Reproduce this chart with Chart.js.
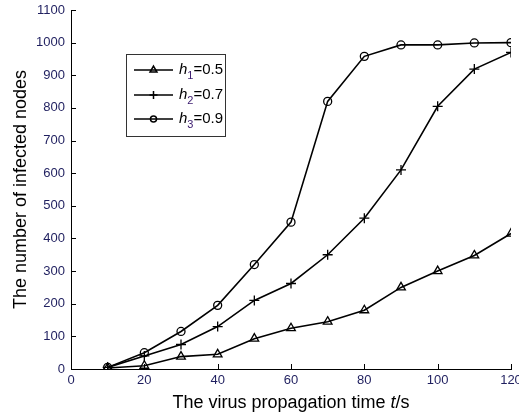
<!DOCTYPE html>
<html>
<head>
<meta charset="utf-8">
<script src="https://cdn.jsdelivr.net/npm/chart.js@4"></script>
<style>
  body { margin: 0; background: #fff; }
  #wrap { width: 519px; height: 416px; }
</style>
</head>
<body>
<div id="wrap"><canvas id="virus_chart" width="519" height="416"></canvas></div>
<script>
// temps de propagation (s)
const times = [10, 20, 30, 40, 50, 60, 70, 80, 90, 100, 110, 120];
// nombre de noeuds infectés pour chaque h
const h1Values = [3, 10, 38, 45, 93, 125, 145, 180, 250, 300, 348, 415];
const h2Values = [5, 40, 75, 130, 210, 262, 350, 462, 610, 805, 919, 970];
const h3Values = [5, 50, 115, 195, 320, 450, 820, 958, 993, 993, 999, 1000];
const legendNames = [["1", "0.5"], ["2", "0.7"], ["3", "0.9"]];
const markerStyles = ["triangle", "cross", "circle"];
const markerSizes = [5, 5, 4];

const tickColor = "#1f1f5f";
const fontName = "'Liberation Sans', Arial, sans-serif";

function toPoints(values) {
    return values.map((v, i) => ({ x: times[i], y: v }));
}

// petites graduations vers l'intérieur (style MATLAB), titre de l'axe x, légende
const decorPlugin = {
    id: "decor",
    afterDraw(chart) {
        const ctx = chart.ctx;
        const area = chart.chartArea;
        const xs = chart.scales.x;
        const ys = chart.scales.y;
        ctx.save();
        ctx.strokeStyle = "#000";
        ctx.lineWidth = 1;
        ctx.beginPath();
        xs.ticks.forEach((t) => {
            const px = Math.round(xs.getPixelForValue(t.value)) + 0.5;
            ctx.moveTo(px, area.bottom);
            ctx.lineTo(px, area.bottom - 5);
        });
        ys.ticks.forEach((t) => {
            const py = Math.round(ys.getPixelForValue(t.value)) + 0.5;
            ctx.moveTo(area.left, py);
            ctx.lineTo(area.left + 5, py);
        });
        ctx.stroke();

        // titre de l'axe x avec le "t" en italique
        ctx.fillStyle = "#000";
        ctx.textBaseline = "middle";
        const parts = [
            ["The virus propagation time ", "18px " + fontName],
            ["t", "italic 18px " + fontName],
            ["/s", "18px " + fontName],
        ];
        let total = 0;
        parts.forEach((p) => { ctx.font = p[1]; total += ctx.measureText(p[0]).width; });
        let x = (area.left + area.right) / 2 - total / 2;
        parts.forEach((p) => {
            ctx.font = p[1];
            ctx.fillText(p[0], x, 403);
            x += ctx.measureText(p[0]).width;
        });

        // légende
        ctx.fillStyle = "#fff";
        ctx.fillRect(126.5, 54.5, 99, 82);
        ctx.strokeStyle = "#333";
        ctx.lineWidth = 1;
        ctx.strokeRect(126.5, 54.5, 99, 82);
        const rows = [70, 95, 119];
        rows.forEach((ry, i) => {
            ctx.strokeStyle = "#000";
            ctx.lineWidth = 1.5;
            ctx.beginPath();
            ctx.moveTo(134, ry);
            ctx.lineTo(173, ry);
            ctx.stroke();
            ctx.fillStyle = "rgba(0,0,0,0)";
            Chart.helpers.drawPoint(ctx, {
                pointStyle: markerStyles[i],
                radius: markerSizes[i] - 1,
                borderWidth: 1.3,
            }, 153.5, ry);
            ctx.fillStyle = "#000";
            ctx.font = "italic 15px " + fontName;
            ctx.fillText("h", 179, ry);
            let tx = 179 + ctx.measureText("h").width;
            ctx.font = "11px " + fontName;
            ctx.fillStyle = "#3a1a6e";
            ctx.fillText(legendNames[i][0], tx, ry + 6);
            tx += ctx.measureText(legendNames[i][0]).width;
            ctx.fillStyle = "#000";
            ctx.font = "15px " + fontName;
            ctx.fillText("=" + legendNames[i][1], tx, ry);
        });
        ctx.restore();
    },
};

const seriesList = [h1Values, h2Values, h3Values];

var ctxVirus = document.getElementById("virus_chart").getContext("2d");
new Chart(ctxVirus, {
    type: "line",
    data: {
        datasets: seriesList.map((vals, i) => ({
            label: "h" + legendNames[i][0] + "=" + legendNames[i][1],
            data: toPoints(vals),
            borderColor: "#000",
            borderWidth: 1.6,
            pointStyle: markerStyles[i],
            pointRadius: markerSizes[i],
            pointBorderWidth: 1.3,
            pointBorderColor: "#000",
            pointBackgroundColor: "rgba(0,0,0,0)",
            tension: 0,
            fill: false,
        })),
    },
    options: {
        responsive: false,
        animation: false,
        layout: { padding: { left: 0, right: 8, top: 10, bottom: 0 } },
        plugins: {
            legend: { display: false },
            tooltip: { enabled: false },
        },
        scales: {
            x: {
                type: "linear",
                min: 0,
                max: 120,
                ticks: {
                    stepSize: 20,
                    color: tickColor,
                    font: { family: fontName, size: 13 },
                    padding: 4,
                    maxRotation: 0,
                    callback: (v) => String(v),
                },
                grid: { drawOnChartArea: false, drawTicks: false },
                border: { display: true, color: "#000", width: 1 },
                afterFit: function (scale) {
                    scale.height = 47;
                    scale.paddingLeft = 0;
                    scale.paddingRight = 0;
                },
            },
            y: {
                min: 0,
                max: 1100,
                ticks: {
                    stepSize: 100,
                    color: tickColor,
                    font: { family: fontName, size: 13 },
                    padding: 6,
                    callback: (v) => String(v),
                },
                grid: { drawOnChartArea: false, drawTicks: false },
                border: { display: true, color: "#000", width: 1 },
                title: {
                    display: true,
                    text: "The number of infected nodes",
                    color: "#000",
                    font: { family: fontName, size: 18 },
                    padding: { top: 10, bottom: 0 },
                },
                afterFit: function (scale) {
                    scale.width = 71;
                    scale.paddingTop = 0;
                    scale.paddingBottom = 0;
                },
            },
        },
    },
    plugins: [decorPlugin],
});
</script>
</body>
</html>
